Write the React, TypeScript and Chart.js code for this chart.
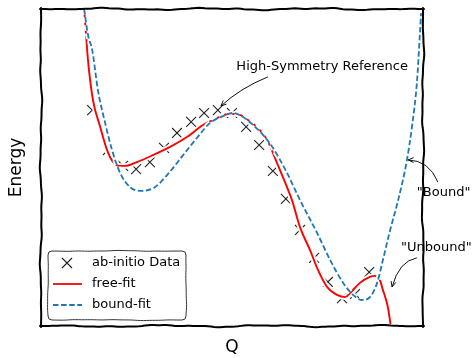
import React, { useEffect, useRef } from "react";
import { Chart, registerables } from "chart.js";

Chart.register(...registerables);

const FONT = "'DejaVu Sans', sans-serif";

// ab-initio data points
const dataQ = [1.34, 1.75, 2.15, 2.49, 2.85, 3.22, 3.56, 3.93, 4.27, 4.63, 5.0, 5.37, 5.71, 6.07, 6.41, 6.78, 7.15, 7.51, 7.88, 8.22, 8.59];
const dataE = [6.81, 5.55, 5.05, 4.95, 5.17, 5.62, 6.09, 6.44, 6.72, 6.81, 6.72, 6.28, 5.71, 4.89, 4.01, 3.03, 2.15, 1.39, 0.88, 1.01, 1.7];

// free-fit curve
const freeQ = [1.13, 1.18, 1.23, 1.36, 1.55, 1.73, 1.89, 2.07, 2.2, 2.51, 2.93, 3.38, 3.82, 4.24, 4.61, 4.9, 5.13, 5.42, 5.73, 5.92, 6.18, 6.44, 6.57, 6.78, 7.04, 7.25, 7.49, 7.75, 7.96, 8.09, 8.35, 8.61, 8.74, 8.87, 8.95, 9.08, 9.15];
const freeE = [10.0, 9.18, 8.39, 7.13, 6.28, 5.55, 5.17, 5.05, 5.05, 5.17, 5.39, 5.65, 5.96, 6.34, 6.56, 6.69, 6.69, 6.5, 6.18, 5.87, 5.14, 4.38, 3.97, 3.12, 2.4, 1.77, 1.23, 0.98, 0.91, 1.04, 1.36, 1.55, 1.58, 1.45, 1.14, 0.6, 0.06];

// bound-fit curve
const boundQ = [1.13, 1.23, 1.34, 1.49, 1.68, 1.86, 2.07, 2.33, 2.64, 2.98, 3.3, 3.72, 4.08, 4.42, 4.76, 5.03, 5.29, 5.55, 5.81, 6.07, 6.44, 6.78, 7.23, 7.57, 7.91, 8.17, 8.4, 8.61, 8.8, 8.95, 9.14, 9.35, 9.58, 9.71, 9.84, 9.92, 9.95];
const boundE = [10.0, 9.18, 8.71, 7.44, 6.4, 5.55, 4.83, 4.38, 4.26, 4.38, 4.76, 5.39, 5.93, 6.4, 6.62, 6.72, 6.59, 6.34, 6.03, 5.62, 4.83, 3.97, 2.93, 2.08, 1.36, 0.98, 0.82, 0.91, 1.36, 2.08, 3.03, 3.97, 5.24, 6.28, 7.67, 9.24, 9.87];

const seriesLabels = ["ab-initio Data", "free-fit", "bound-fit"];

// annotations: text position and arrow (from -> ctrl -> to), in data units
const annotations = [
  { text: "High-Symmetry Reference", tx: 7.36, ty: 8.17, from: [5.94, 7.86], ctrl: [5.2, 7.49], to: [4.71, 6.94] },
  { text: '"Bound"', tx: 10.54, ty: 4.2, from: [10.39, 4.54], ctrl: [10.16, 5.22], to: [9.61, 5.24] },
  { text: '"Unbound"', tx: 10.35, ty: 2.48, from: [9.84, 2.15], ctrl: [9.37, 2.05], to: [9.19, 1.23] },
];

const RED = "#ff0000";
const BLUE = "#1f77b4";
const DASH = [5.5, 2.6];

function zip(xs: number[], ys: number[]) {
  return xs.map((x, i) => ({ x, y: ys[i] }));
}

function wiggle(ctx: CanvasRenderingContext2D, x0: number, y0: number, x1: number, y1: number, amp: number, seed: number, move: boolean) {
  const dx = x1 - x0, dy = y1 - y0;
  const L = Math.hypot(dx, dy);
  const n = Math.max(2, Math.ceil(L / 3));
  const nx = -dy / L, ny = dx / L;
  for (let i = 0; i <= n; i++) {
    const u = i / n;
    const t = u * L;
    const env = Math.min(1, 8 * u, 8 * (1 - u));
    const o = amp * env * (0.55 * Math.sin(t / 17 + seed) + 0.3 * Math.sin(t / 7.3 + seed * 2.1) + 0.15 * Math.sin(t / 3.1 + seed * 3.7));
    const x = x0 + dx * u + nx * o;
    const y = y0 + dy * u + ny * o;
    if (i === 0 && move) ctx.moveTo(x, y);
    else ctx.lineTo(x, y);
  }
}

const xkcdPlugin = {
  id: "xkcd",
  afterDatasetsDraw(chart: any) {
    const { ctx, chartArea: a } = chart;
    ctx.save();
    ctx.strokeStyle = "#000";
    ctx.lineWidth = 2;
    ctx.lineCap = "round";
    const edges = [
      [a.left - 1, a.top, a.right + 1, a.top, 1.1],
      [a.right, a.top - 1, a.right, a.bottom + 1, 2.3],
      [a.left - 1, a.bottom, a.right + 1, a.bottom, 3.7],
      [a.left, a.top - 1, a.left, a.bottom + 1, 5.2],
    ];
    edges.forEach((e) => {
      ctx.beginPath();
      wiggle(ctx, e[0], e[1], e[2], e[3], 1.3, e[4], true);
      ctx.stroke();
    });
    ctx.restore();
  },
  afterDraw(chart: any) {
    const { ctx, chartArea: a, scales } = chart;
    const xs = scales.x, ys = scales.y;
    ctx.save();
    // annotations
    ctx.font = `13px ${FONT}`;
    ctx.fillStyle = "#000";
    ctx.textAlign = "center";
    ctx.textBaseline = "middle";
    annotations.forEach((an) => {
      ctx.fillText(an.text, xs.getPixelForValue(an.tx), ys.getPixelForValue(an.ty));
      const p0 = [xs.getPixelForValue(an.from[0]), ys.getPixelForValue(an.from[1])];
      const pc = [xs.getPixelForValue(an.ctrl[0]), ys.getPixelForValue(an.ctrl[1])];
      const p1 = [xs.getPixelForValue(an.to[0]), ys.getPixelForValue(an.to[1])];
      ctx.strokeStyle = "#111";
      ctx.lineWidth = 1;
      ctx.beginPath();
      ctx.moveTo(p0[0], p0[1]);
      ctx.quadraticCurveTo(pc[0], pc[1], p1[0], p1[1]);
      ctx.stroke();
      const ang = Math.atan2(p1[1] - pc[1], p1[0] - pc[0]);
      const hl = 6, ha = 0.42;
      ctx.beginPath();
      ctx.moveTo(p1[0] - hl * Math.cos(ang - ha), p1[1] - hl * Math.sin(ang - ha));
      ctx.lineTo(p1[0], p1[1]);
      ctx.lineTo(p1[0] - hl * Math.cos(ang + ha), p1[1] - hl * Math.sin(ang + ha));
      ctx.stroke();
    });

    // legend
    const lx = a.left + 7, ly = a.bottom - 75, lw = 138, lh = 69, r = 4;
    ctx.beginPath();
    ctx.moveTo(lx + r, ly);
    wiggle(ctx, lx + r, ly, lx + lw - r, ly, 0.6, 0.7, false);
    ctx.arcTo(lx + lw, ly, lx + lw, ly + r, r);
    wiggle(ctx, lx + lw, ly + r, lx + lw, ly + lh - r, 0.6, 1.9, false);
    ctx.arcTo(lx + lw, ly + lh, lx + lw - r, ly + lh, r);
    wiggle(ctx, lx + lw - r, ly + lh, lx + r, ly + lh, 0.6, 2.8, false);
    ctx.arcTo(lx, ly + lh, lx, ly + lh - r, r);
    wiggle(ctx, lx, ly + lh - r, lx, ly + r, 0.6, 4.4, false);
    ctx.arcTo(lx, ly, lx + r, ly, r);
    ctx.closePath();
    ctx.fillStyle = "rgba(255,255,255,0.9)";
    ctx.fill();
    ctx.strokeStyle = "#333";
    ctx.lineWidth = 1;
    ctx.stroke();

    const rows = [ly + 12, ly + 33, ly + 54];
    // marker
    ctx.strokeStyle = "#222";
    ctx.lineWidth = 1.1;
    const cx = lx + 19, cy = rows[0], h = 5;
    ctx.beginPath();
    ctx.moveTo(cx - h, cy - h);
    ctx.lineTo(cx + h, cy + h);
    ctx.moveTo(cx + h, cy - h);
    ctx.lineTo(cx - h, cy + h);
    ctx.stroke();
    // red line
    ctx.strokeStyle = RED;
    ctx.lineWidth = 1.8;
    ctx.beginPath();
    ctx.moveTo(lx + 5, rows[1]);
    ctx.lineTo(lx + 34, rows[1]);
    ctx.stroke();
    // blue dashed
    ctx.strokeStyle = BLUE;
    ctx.setLineDash(DASH);
    ctx.beginPath();
    ctx.moveTo(lx + 5, rows[2]);
    ctx.lineTo(lx + 34, rows[2]);
    ctx.stroke();
    ctx.setLineDash([]);
    ctx.fillStyle = "#000";
    ctx.textAlign = "left";
    ctx.font = `13px ${FONT}`;
    seriesLabels.forEach((t, i) => ctx.fillText(t, lx + 44, rows[i]));
    ctx.restore();
  },
};

export default function App() {
  const ref = useRef<HTMLCanvasElement | null>(null);
  useEffect(() => {
    if (!ref.current) return;
    const common = { pointRadius: 0, cubicInterpolationMode: "monotone" as const, fill: false };
    const chart = new Chart(ref.current, {
      type: "line",
      data: {
        datasets: [
          { label: seriesLabels[2], data: zip(boundQ, boundE), borderColor: BLUE, borderWidth: 1.8, borderDash: DASH, order: 0, ...common },
          { label: "", data: zip(boundQ, boundE), borderColor: "#fff", borderWidth: 5.5, borderDash: DASH, order: 1, ...common },
          { label: seriesLabels[1], data: zip(freeQ, freeE), borderColor: RED, borderWidth: 1.9, order: 2, ...common },
          { label: "", data: zip(freeQ, freeE), borderColor: "#fff", borderWidth: 5.5, order: 3, ...common },
          {
            label: seriesLabels[0],
            data: zip(dataQ, dataE),
            showLine: false,
            pointStyle: "crossRot",
            pointRadius: 7,
            pointBorderColor: "#222",
            pointBorderWidth: 1.1,
            pointBackgroundColor: "transparent",
            order: 4,
          },
        ],
      },
      options: {
        animation: false,
        responsive: false,
        events: [],
        layout: { padding: { left: 0, right: 49, top: 9, bottom: 0 } },
        plugins: { legend: { display: false }, tooltip: { enabled: false } },
        scales: {
          x: {
            type: "linear",
            min: 0,
            max: 10,
            ticks: { display: false },
            grid: { display: false },
            border: { display: false },
            title: { display: true, text: "Q", color: "#000", font: { family: FONT, size: 17 }, padding: { top: 0, bottom: 0 } },
            afterFit: (s: any) => {
              s.height = 32;
            },
          },
          y: {
            type: "linear",
            min: 0,
            max: 10,
            ticks: { display: false },
            grid: { display: false },
            border: { display: false },
            title: { display: true, text: "Energy", color: "#000", font: { family: FONT, size: 17 }, padding: { top: 6.4, bottom: 0 } },
            afterFit: (s: any) => {
              s.width = 41;
            },
          },
        },
      },
      plugins: [xkcdPlugin],
    });
    return () => chart.destroy();
  }, []);
  return (
    <div style={{ position: "fixed", left: 0, top: 0, width: 472, height: 358, background: "#fff" }}>
      <canvas ref={ref} width={472} height={358} />
    </div>
  );
}
